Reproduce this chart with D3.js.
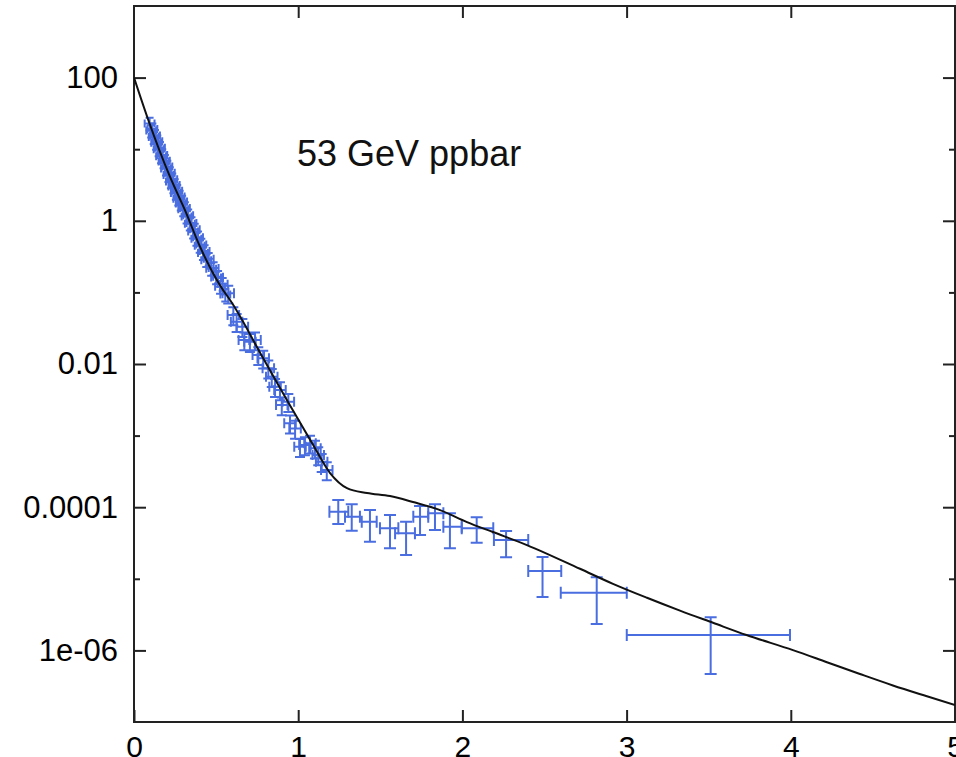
<!DOCTYPE html>
<html>
<head>
<meta charset="utf-8">
<script src="https://cdn.jsdelivr.net/npm/d3@7"></script>
<style>
  body { margin: 0; background: #fff; }
  svg { display: block; }
  .tick text { font-family: "Liberation Sans", Arial, Helvetica, sans-serif; fill: #000; }
</style>
</head>
<body>
<div id="chart"></div>
<script>
// model curve
const curveX = [0, 0.087, 0.219, 0.311, 0.402, 0.542, 0.585, 0.786, 0.938, 1.084, 1.194, 1.297,
  1.419, 1.559, 1.699, 1.864, 2.028, 2.186, 2.393, 2.716, 2.917, 3.124, 3.325, 3.526, 3.730,
  4.013, 4.220, 4.421, 4.622, 4.829, 5.0];
const curveY = [100, 25.6, 4.13, 1.40, 0.435, 0.108, 0.0783, 0.0121, 2.94e-3, 7.9e-4, 3.0e-4, 1.85e-4,
  1.58e-4, 1.43e-4, 1.18e-4, 9.1e-5, 6.2e-5, 4.5e-5, 2.96e-5, 1.38e-5, 8.51e-6, 5.43e-6, 3.59e-6, 2.43e-6, 1.64e-6,
  1.01e-6, 6.84e-7, 4.68e-7, 3.24e-7, 2.29e-7, 1.73e-7];

// small-t points (tiny error bars)
const denseX = [0.095, 0.105, 0.112, 0.120, 0.128, 0.135, 0.142, 0.150, 0.158, 0.165, 0.172, 0.180,
  0.188, 0.195, 0.203, 0.210, 0.218, 0.225, 0.233, 0.240, 0.248, 0.255, 0.263, 0.270, 0.278, 0.285,
  0.293, 0.300, 0.310, 0.320, 0.330, 0.340, 0.350, 0.360, 0.370, 0.380, 0.390, 0.400, 0.410, 0.420,
  0.430, 0.440, 0.455, 0.470, 0.485, 0.500, 0.512, 0.524, 0.540, 0.556];
const denseY = [22.9, 18.2, 19.1, 14.8, 15.5, 12.3, 12.9, 10.0, 10.5, 7.94, 8.32, 6.76,
  6.92, 5.37, 5.75, 4.37, 4.68, 3.55, 3.80, 3.02, 3.16, 2.45, 2.63, 2.04, 2.19, 1.74,
  1.86, 1.45, 1.51, 1.15, 1.20, 0.912, 0.933, 0.708, 0.759, 0.562, 0.589, 0.447, 0.468, 0.355,
  0.380, 0.282, 0.295, 0.214, 0.219, 0.162, 0.166, 0.120, 0.132, 0.0933];
const denseXErr = 0.03, denseYRel = 0.2;

// mid-t points
const midX = [0.574, 0.605, 0.625, 0.660, 0.672, 0.706, 0.737, 0.757, 0.787, 0.818, 0.839, 0.859,
  0.889, 0.900, 0.940, 0.950, 0.981, 1.011, 1.041, 1.072, 1.102, 1.122, 1.143, 1.174];
const midY = [0.0970, 0.0483, 0.0390, 0.0332, 0.0216, 0.0205, 0.0216, 0.0134, 0.0120, 8.71e-3, 6.65e-3, 4.82e-3,
  4.34e-3, 2.67e-3, 2.97e-3, 1.49e-3, 1.26e-3, 7.0e-4, 7.4e-4, 7.8e-4, 6.64e-4, 5.36e-4, 4.32e-4, 3.31e-4];
const midXErr = 0.035, midYRel = 0.28;

// large-t points with explicit bins
const binX   = [1.244, 1.326, 1.437, 1.559, 1.657, 1.742, 1.833, 1.924, 2.087, 2.266, 2.488, 2.818, 3.512];
const binXLo = [1.190, 1.285, 1.387, 1.498, 1.590, 1.701, 1.792, 1.884, 1.996, 2.192, 2.401, 2.599, 3.001];
const binXHi = [1.305, 1.376, 1.478, 1.610, 1.711, 1.792, 1.884, 1.996, 2.188, 2.401, 2.602, 3.001, 3.995];
const binY   = [8.65e-5, 7.36e-5, 6.26e-5, 5.07e-5, 4.31e-5, 7.36e-5, 8.22e-5, 5.35e-5, 5.07e-5, 3.48e-5, 1.28e-5, 6.40e-6, 1.64e-6];
const binYLo = [5.82e-5, 4.70e-5, 3.30e-5, 2.67e-5, 2.15e-5, 4.09e-5, 4.81e-5, 2.67e-5, 3.19e-5, 2.0e-5, 5.57e-6, 2.34e-6, 4.68e-7];
const binYHi = [1.26e-4, 1.10e-4, 9.14e-5, 7.78e-5, 6.26e-5, 1.04e-4, 1.10e-4, 8.22e-5, 7.22e-5, 4.66e-5, 2.01e-5, 1.05e-5, 2.90e-6];

const xTicks = [0, 1, 2, 3, 4, 5];
const yTicks = [1e-6, 1e-4, 1e-2, 1, 100];
const yTickLabels = ["1e-06", "0.0001", "0.01", "1", "100"];
const yMinorTicks = [1e-5, 1e-3, 0.1, 10];
const label = "53 GeV ppbar";

const W = 956, H = 757;
const m = {left: 134, right: 955, top: 6, bottom: 722};

const svg = d3.select("#chart").append("svg")
  .attr("width", W).attr("height", H);

const x = d3.scaleLinear().domain([0, 5]).range([m.left, m.right]);
const y = d3.scaleLog().domain([1e-7, 1e3]).range([m.bottom, m.top]);

svg.append("defs").append("clipPath").attr("id", "clip")
  .append("rect").attr("x", m.left).attr("y", m.top)
  .attr("width", m.right - m.left).attr("height", m.bottom - m.top);

// axes
svg.append("g")
  .attr("transform", "translate(0," + m.bottom + ")")
  .call(d3.axisBottom(x).tickValues(xTicks).tickFormat(d3.format("d"))
    .tickSizeInner(-12).tickSizeOuter(0).tickPadding(14))
  .call(g => g.select(".domain").remove())
  .call(g => g.selectAll("text").style("font-size", "30px"));

svg.append("g")
  .attr("transform", "translate(0," + m.top + ")")
  .call(d3.axisTop(x).tickValues(xTicks.slice(1, 5)).tickFormat("")
    .tickSizeInner(-12).tickSizeOuter(0))
  .call(g => g.select(".domain").remove());

svg.append("g")
  .attr("transform", "translate(" + m.left + ",0)")
  .call(d3.axisLeft(y).tickValues(yTicks).tickFormat((d, i) => yTickLabels[i])
    .tickSizeInner(-12).tickSizeOuter(0).tickPadding(16))
  .call(g => g.select(".domain").remove())
  .call(g => g.selectAll("text").style("font-size", "31px"));

svg.append("g")
  .attr("transform", "translate(" + m.left + ",0)")
  .call(d3.axisLeft(y).tickValues(yMinorTicks).tickFormat("")
    .tickSizeInner(-6).tickSizeOuter(0))
  .call(g => g.select(".domain").remove());

svg.append("g")
  .attr("transform", "translate(" + m.right + ",0)")
  .call(d3.axisRight(y).tickValues(yTicks).tickFormat("")
    .tickSizeInner(-12).tickSizeOuter(0))
  .call(g => g.select(".domain").remove());

svg.append("g")
  .attr("transform", "translate(" + m.right + ",0)")
  .call(d3.axisRight(y).tickValues(yMinorTicks).tickFormat("")
    .tickSizeInner(-6).tickSizeOuter(0))
  .call(g => g.select(".domain").remove());

svg.selectAll(".tick line").attr("stroke", "#222").attr("stroke-width", 2);

// frame
svg.append("rect")
  .attr("x", m.left).attr("y", m.top)
  .attr("width", m.right - m.left).attr("height", m.bottom - m.top)
  .attr("fill", "none").attr("stroke", "#222").attr("stroke-width", 2);

// data points
const pts = [];
denseX.forEach((d, i) => pts.push({x: d, xl: d - denseXErr, xh: d + denseXErr,
  y: denseY[i], yl: denseY[i] * (1 - denseYRel), yh: denseY[i] * (1 + denseYRel), cap: 4}));
midX.forEach((d, i) => pts.push({x: d, xl: d - midXErr, xh: d + midXErr,
  y: midY[i], yl: midY[i] * (1 - midYRel), yh: midY[i] * (1 + midYRel), cap: 5}));
binX.forEach((d, i) => pts.push({x: d, xl: binXLo[i], xh: binXHi[i],
  y: binY[i], yl: binYLo[i], yh: binYHi[i], cap: 6}));

const plot = svg.append("g").attr("clip-path", "url(#clip)");

plot.append("g")
  .attr("stroke", "#4a6ee0").attr("stroke-width", 2).attr("fill", "none")
  .selectAll("path").data(pts).enter().append("path")
  .attr("d", d => {
    const cx = x(d.x), cy = y(d.y), x0 = x(d.xl), x1 = x(d.xh), y0 = y(d.yl), y1 = y(d.yh), c = d.cap;
    return "M" + x0 + "," + cy + "H" + x1 +
      "M" + cx + "," + y0 + "V" + y1 +
      "M" + x0 + "," + (cy - c) + "V" + (cy + c) +
      "M" + x1 + "," + (cy - c) + "V" + (cy + c) +
      "M" + (cx - c) + "," + y0 + "H" + (cx + c) +
      "M" + (cx - c) + "," + y1 + "H" + (cx + c);
  });

// model curve
const line = d3.line()
  .x((d, i) => x(curveX[i]))
  .y(d => y(d))
  .curve(d3.curveMonotoneX);

plot.append("path")
  .datum(curveY)
  .attr("d", line)
  .attr("fill", "none")
  .attr("stroke", "#111")
  .attr("stroke-width", 2);

svg.append("text")
  .attr("x", 297).attr("y", 166)
  .style("font-family", "\"Liberation Sans\", Arial, Helvetica, sans-serif")
  .style("font-size", "36px")
  .attr("fill", "#111")
  .text(label);
</script>
</body>
</html>
